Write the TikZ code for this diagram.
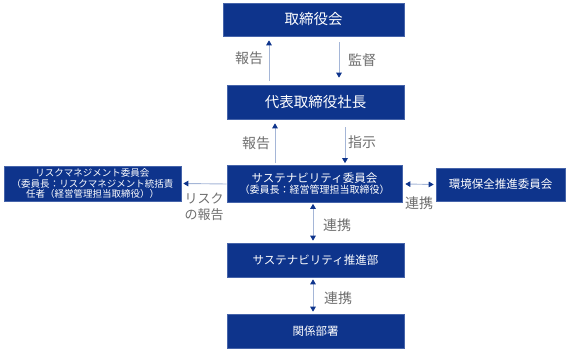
\documentclass[tikz,border=0pt]{standalone}
\usepackage{fontspec}
\setmainfont{Noto Sans CJK JP}
\usetikzlibrary{arrows.meta}
\definecolor{navy}{RGB}{14,52,140}
\definecolor{edgeblue}{RGB}{70,100,170}
\definecolor{lineblue}{RGB}{165,182,215}
\definecolor{labgray}{RGB}{110,110,110}
\tikzset{
  box/.style={fill=navy, draw=edgeblue, line width=0.6pt, text=white, inner sep=0pt, align=center},
  lab/.style={text=labgray, inner sep=0pt, align=center, font=\fontsize{14}{16}\selectfont},
  navytip/.tip={Triangle[length=5pt,width=5.5pt,color=navy]},
  arr/.style={draw=lineblue, line width=0.9pt, -navytip},
  darr/.style={draw=lineblue, line width=0.9pt, navytip-navytip}
}
\begin{document}
\begin{tikzpicture}[x=1pt,y=-1pt]
\useasboundingbox (0,0) rectangle (567,352);
% boxes
\node[box, minimum width=181pt, minimum height=33pt, font=\fontsize{14.5}{16}\selectfont] (b1) at (313.5,19.5) {取締役会};
\node[box, minimum width=177pt, minimum height=34pt, font=\fontsize{14.5}{16}\selectfont] (b2) at (315.5,102) {代表取締役社長};
\node[box, minimum width=175pt, minimum height=37pt] (b3) at (314.5,184)
  {{\fontsize{11.5}{13}\selectfont サステナビリティ委員会}\\[-1pt]{\fontsize{10}{12}\selectfont （委員長：経営管理担当取締役）}};
\node[box, minimum width=129pt, minimum height=33pt, font=\fontsize{11.5}{13}\selectfont] (b4) at (500.5,184.5) {環境保全推進委員会};
\node[box, minimum width=177pt, minimum height=35pt, font=\fontsize{9.5}{10.8}\selectfont] (b0) at (92.5,183.5)
  {リスクマネジメント委員会\\（委員長：リスクマネジメント統括責\\任者（経営管理担当取締役））};
\node[box, minimum width=177pt, minimum height=34pt, font=\fontsize{11.5}{13}\selectfont] (b5) at (315.5,260) {サステナビリティ推進部};
\node[box, minimum width=177pt, minimum height=34pt, font=\fontsize{11.5}{13}\selectfont] (b6) at (315.5,331) {関係部署};
% x positions
\coordinate (xa) at (269,0);
\coordinate (xb) at (339,0);
\coordinate (xc) at (275,0);
\coordinate (xd) at (345,0);
\coordinate (xe) at (313,0);
% arrows
\draw[arr] ([yshift=4pt]xa |- b2.north) -- ([yshift=-4pt]xa |- b1.south);
\draw[arr] ([yshift=-6pt]xb |- b1.south) -- ([yshift=7pt]xb |- b2.north);
\draw[arr] ([yshift=2pt]xc |- b3.north) -- ([yshift=-4pt]xc |- b2.south);
\draw[arr] ([yshift=-8pt]xd |- b2.south) -- ([yshift=2pt]xd |- b3.north);
\draw[arr] (b3.west) -- ([xshift=2pt]b0.east);
\draw[darr] ([xshift=3pt]b3.east) -- ([xshift=-2pt]b4.west);
\draw[darr] ([yshift=-1pt]xe |- b3.south) -- ([yshift=2pt]xe |- b5.north);
\draw[darr] ([yshift=-2pt]xe |- b5.south) -- ([yshift=2pt]xe |- b6.north);
% labels
\node[lab] (l1) at (249,58) {報告};
\node[lab] (l2) at (362,60) {監督};
\node[lab] (l3) at (256,143) {報告};
\node[lab] (l4) at (362,142) {指示};
\node[lab, font=\fontsize{13}{16}\selectfont] (l5) at (204,207) {リスク\\の報告};
\node[lab] (l6) at (419,203) {連携};
\node[lab] (l7) at (337,225) {連携};
\node[lab] (l8) at (338,298) {連携};
\end{tikzpicture}
\end{document}
